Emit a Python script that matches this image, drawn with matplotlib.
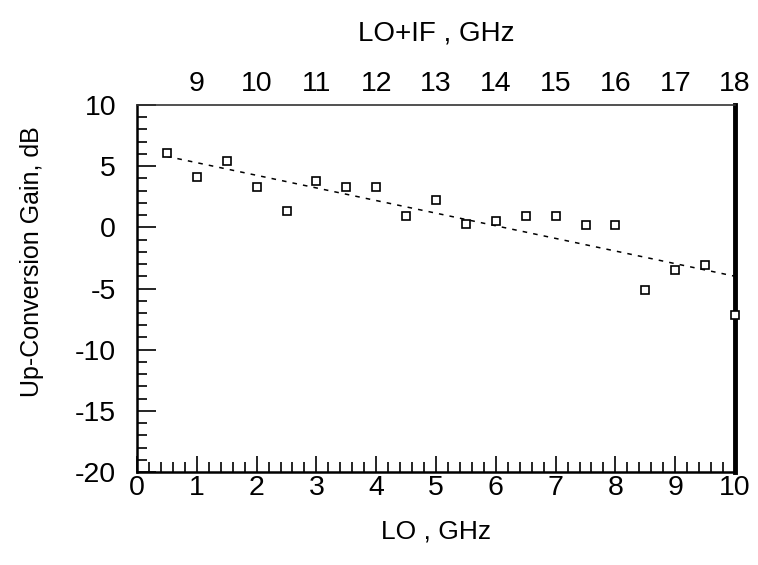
import matplotlib
matplotlib.use("Agg")
import matplotlib.pyplot as plt
from matplotlib.ticker import MultipleLocator

plt.rcParams['font.family'] = ['Liberation Sans', 'DejaVu Sans']
plt.rcParams['axes.unicode_minus'] = False

# measured data (LO in GHz, gain in dB)
lo = [0.5, 1.0, 1.5, 2.0, 2.5, 3.0, 3.5, 4.0, 4.5, 5.0,
      5.5, 6.0, 6.5, 7.0, 7.5, 8.0, 8.5, 9.0, 9.5, 10.0]
gain = [6.1, 4.1, 5.4, 3.3, 1.3, 3.8, 3.3, 3.3, 0.9, 2.2,
        0.3, 0.5, 0.9, 0.9, 0.2, 0.2, -5.1, -3.5, -3.1, -7.2]

# straight-line fit drawn dashed
trend_lo = [0.5, 10.0]
trend_gain = [5.8, -4.0]

IF = 8  # top axis shows LO+IF
top_ticks = [9, 10, 11, 12, 13, 14, 15, 16, 17, 18]

fig = plt.figure(figsize=(7.58, 5.65), dpi=100)
ax = fig.add_axes([137/758, 1 - 472/565, 598/758, 367/565])

ax.plot(trend_lo, trend_gain, color='black', lw=1.1, linestyle=(0, (3, 4)))
ax.plot(lo, gain, linestyle='none', marker='s', markersize=6,
        markerfacecolor='white', markeredgecolor='black', markeredgewidth=1.2,
        clip_on=False, zorder=3)

ax.set_xlim(0, 10)
ax.set_ylim(-20, 10)
ax.xaxis.set_major_locator(MultipleLocator(1))
ax.xaxis.set_minor_locator(MultipleLocator(0.2))
ax.yaxis.set_major_locator(MultipleLocator(5))
ax.yaxis.set_minor_locator(MultipleLocator(1))

ax.tick_params(axis='x', which='major', direction='in', length=11.5, width=1.2,
               labelsize=20.5, pad=2, top=False)
ax.tick_params(axis='x', which='minor', direction='in', length=7, width=1.2, top=False)
ax.tick_params(axis='y', which='major', direction='in', length=13.5, width=1.2,
               labelsize=20.5, pad=15, right=False)
ax.tick_params(axis='y', which='minor', direction='in', length=7, width=1.2, right=False)

ax.spines['left'].set_linewidth(1.8)
ax.spines['bottom'].set_linewidth(1.8)
ax.spines['top'].set_linewidth(1.2)
ax.spines['top'].set_color('#333333')
ax.spines['right'].set_linewidth(3.5)

ax.set_xlabel('LO , GHz', fontsize=19)
ax.xaxis.set_label_coords(0.5, -0.13)
ax.set_ylabel('Up-Conversion Gain, dB', fontsize=18)
ax.yaxis.set_label_coords(-0.155, 0.572)

top = ax.secondary_xaxis('top', functions=(lambda x: x + IF, lambda x: x - IF))
top.set_xticks(top_ticks)
top.tick_params(length=0, labelsize=20.5, pad=6)
top.spines['top'].set_visible(False)
top.set_xlabel('LO+IF , GHz', fontsize=20, labelpad=22)

fig.savefig('out.png', dpi=100)
